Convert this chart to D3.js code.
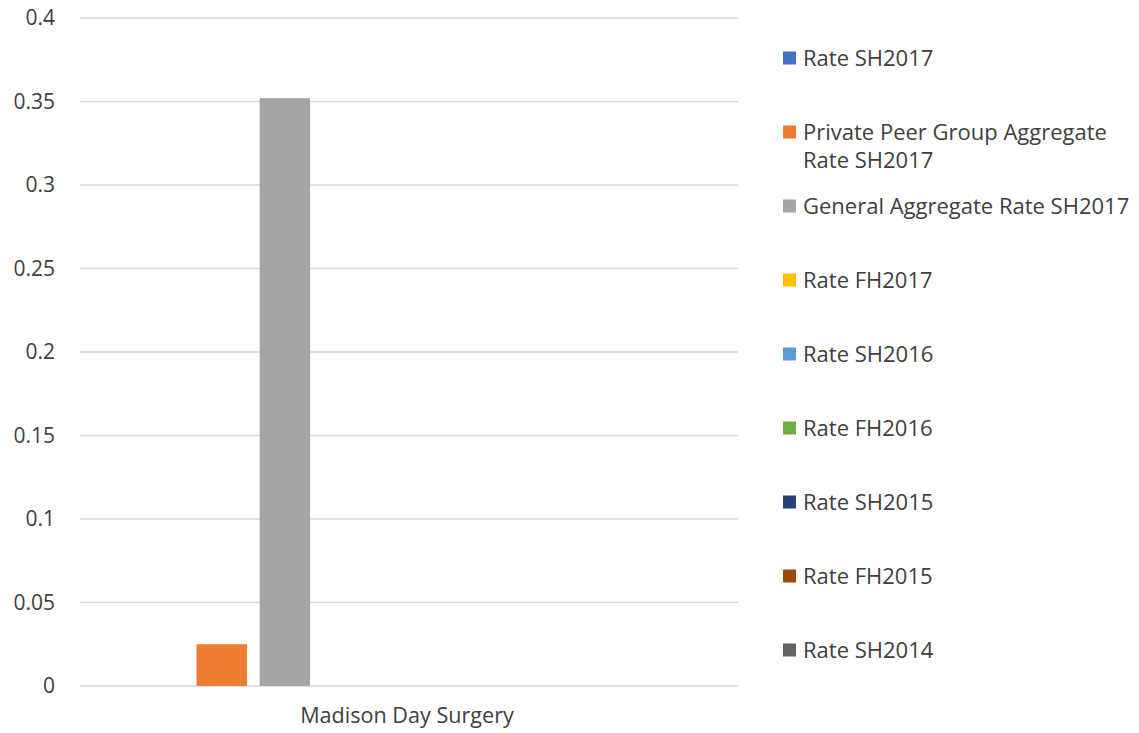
<!DOCTYPE html>
<html>
<head>
<meta charset="utf-8">
<script src="https://cdn.jsdelivr.net/npm/d3@7"></script>
<style>
  body { margin: 0; background: #fff; }
  text { font-family: "Open Sans", sans-serif; fill: #404040; }
</style>
</head>
<body>
<div id="chart"></div>
<script>
const categories = ['Madison Day Surgery'];
const seriesNames = [
    'Rate SH2017',
    'Private Peer Group Aggregate Rate SH2017',
    'General Aggregate Rate SH2017',
    'Rate FH2017',
    'Rate SH2016',
    'Rate FH2016',
    'Rate SH2015',
    'Rate FH2015',
    'Rate SH2014'
];
// one value per series for the single category
const seriesValues = [0, 0.025, 0.352, 0, 0, 0, 0, 0, 0];
const yTicks = [0, 0.05, 0.1, 0.15, 0.2, 0.25, 0.3, 0.35, 0.4];
const seriesColors = ['#4472C4', '#ED7D31', '#A5A5A5', '#FFC000', '#5B9BD5', '#70AD47', '#264478', '#9E480E', '#636363'];

const width = 1139,
    height = 733;
const plot = { left: 80, right: 738, top: 18, bottom: 686 };

const svg = d3.select('#chart').append('svg')
    .attr('width', width)
    .attr('height', height);

const y = d3.scaleLinear()
    .domain([0, 0.4])
    .range([plot.bottom, plot.top]);

const x0 = d3.scaleBand()
    .domain(categories)
    .range([plot.left + 4, plot.right])
    .paddingOuter(0.076);

const x1 = d3.scaleBand()
    .domain(seriesNames)
    .range([0, x0.bandwidth()])
    .paddingInner(0.2)
    .paddingOuter(0.1);

const color = d3.scaleOrdinal().domain(seriesNames).range(seriesColors);

// gridlines
svg.append('g')
    .selectAll('line')
    .data(yTicks)
    .enter()
    .append('line')
    .attr('x1', plot.left)
    .attr('x2', plot.right)
    .attr('y1', d => y(d))
    .attr('y2', d => y(d))
    .attr('stroke', '#d9d9d9')
    .attr('stroke-width', 1.5);

// y axis labels
const yAxis = svg.append('g')
    .attr('transform', 'translate(55,0)')
    .call(d3.axisLeft(y).tickValues(yTicks).tickSize(0).tickPadding(0).tickFormat(d => String(d)));
yAxis.select('.domain').remove();
yAxis.selectAll('text')
    .attr('font-size', 21)
    .attr('fill', '#404040')
    .attr('font-family', '"Open Sans", sans-serif');

// bars
const groups = svg.append('g')
    .selectAll('g')
    .data(categories)
    .enter()
    .append('g')
    .attr('transform', d => 'translate(' + x0(d) + ',0)');

groups.selectAll('rect')
    .data(() => seriesNames.map((s, i) => ({ name: s, value: seriesValues[i] })))
    .enter()
    .append('rect')
    .attr('x', d => x1(d.name))
    .attr('width', x1.bandwidth())
    .attr('y', d => y(d.value))
    .attr('height', d => y(0) - y(d.value))
    .attr('fill', d => color(d.name));

// x axis label
const xAxis = svg.append('g')
    .attr('transform', 'translate(-4,' + plot.bottom + ')')
    .call(d3.axisBottom(x0).tickSize(0).tickPadding(22));
xAxis.select('.domain').remove();
xAxis.selectAll('text')
    .attr('font-size', 21.6)
    .attr('fill', '#404040')
    .attr('font-family', '"Open Sans", sans-serif');

// legend
const legendRows = [
    ['Rate SH2017'],
    ['Private Peer Group Aggregate', 'Rate SH2017'],
    ['General Aggregate Rate SH2017'],
    ['Rate FH2017'],
    ['Rate SH2016'],
    ['Rate FH2016'],
    ['Rate SH2015'],
    ['Rate FH2015'],
    ['Rate SH2014']
];
const legendY = d3.scaleLinear().domain([0, 8]).range([58, 650]);

const legend = svg.append('g')
    .selectAll('g')
    .data(seriesNames)
    .enter()
    .append('g')
    .attr('transform', (d, i) => 'translate(783,' + legendY(i) + ')');

legend.append('rect')
    .attr('x', 0)
    .attr('y', -6.5)
    .attr('width', 13)
    .attr('height', 13)
    .attr('fill', d => color(d));

legend.each(function(d, i) {
    const t = d3.select(this).append('text')
        .attr('x', 20)
        .attr('y', 7.5)
        .attr('font-size', 22);
    legendRows[i].forEach((line, j) => {
        t.append('tspan')
            .attr('x', 20)
            .attr('dy', j === 0 ? 0 : 28)
            .text(line);
    });
});
</script>
</body>
</html>
